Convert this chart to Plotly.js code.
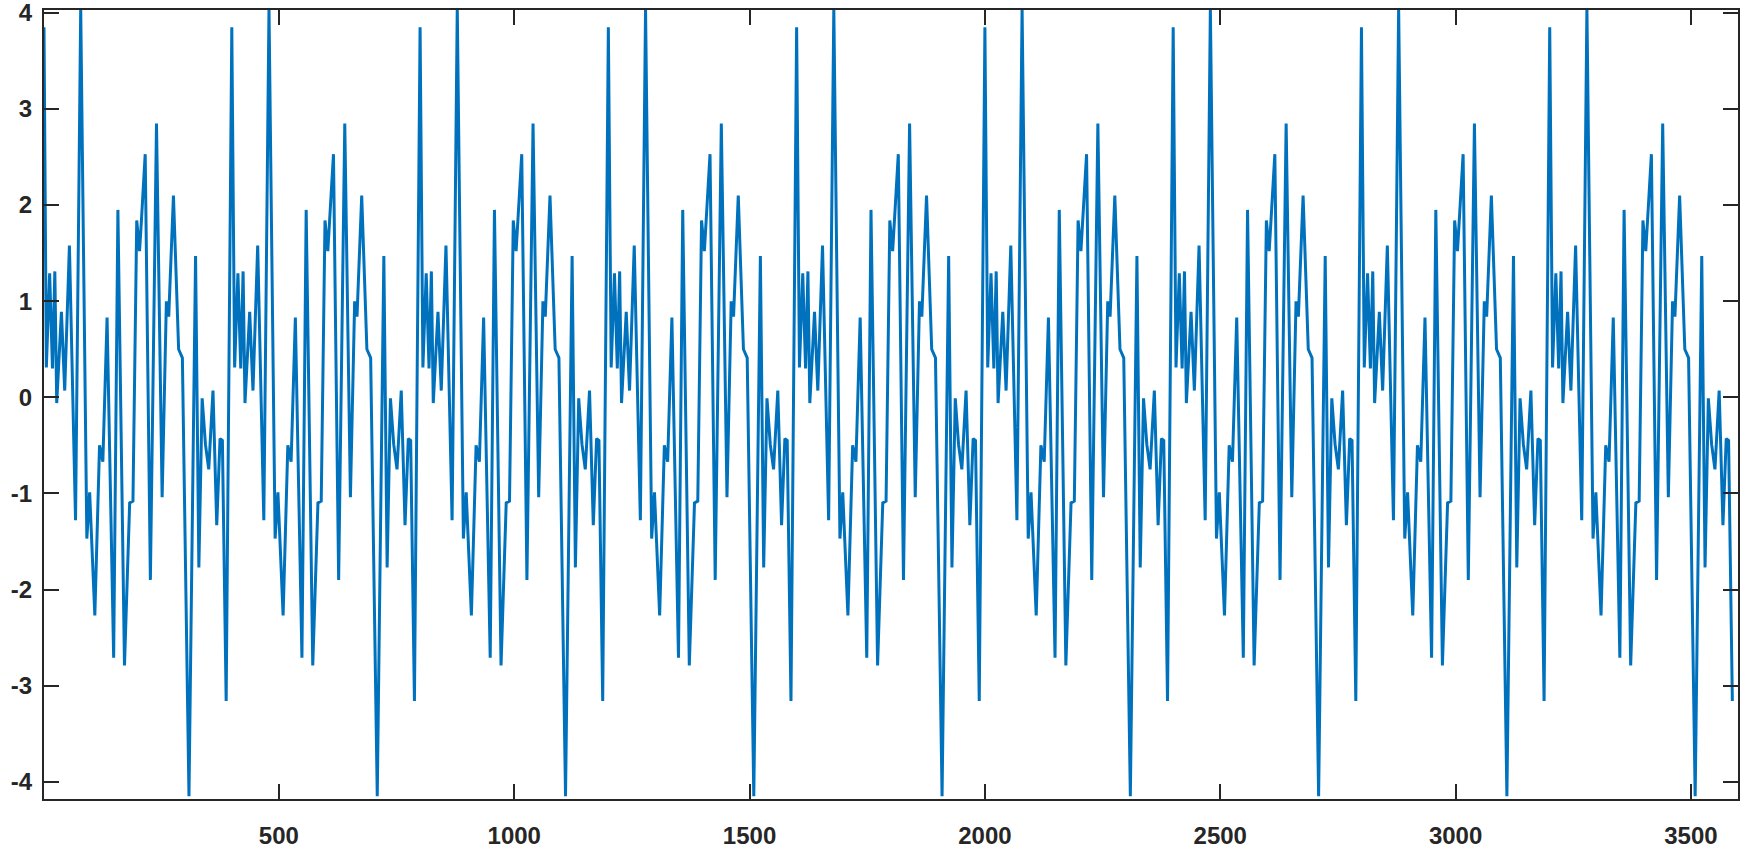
<!DOCTYPE html>
<html>
<head>
<meta charset="utf-8">
<script src="https://cdn.plot.ly/plotly-3.0.1.min.js"></script>
<style>html,body{margin:0;padding:0;background:#fff;}#chart{width:1750px;height:852px;}</style>
</head>
<body>
<div id="chart"></div>
<script>
// One period of the signal (sample index within the period, value)
const periodX = [0, 6, 13, 19, 24, 28, 38, 45, 55, 68, 79, 92, 98, 109, 119, 126, 135, 149, 158, 172,
  183, 190, 198, 204, 208, 216, 227, 240, 252, 261, 266, 276, 287, 295, 309, 323, 330, 337, 344, 351,
  360, 368, 375, 380, 388];
const periodY = [3.85, 0.31, 1.29, 0.30, 1.31, -0.06, 0.89, 0.07, 1.58, -1.28, 4.05, -1.47, -0.99, -2.27, -0.50, -0.67, 0.83, -2.71, 1.95, -2.79,
  -1.10, -1.08, 1.84, 1.52, 1.84, 2.53, -1.90, 2.85, -1.04, 1.00, 0.84, 2.10, 0.50, 0.41, -4.15, 1.47, -1.77, -0.01, -0.49, -0.75,
  0.07, -1.33, -0.43, -0.45, -3.16];
const periodLength = 400;
const periodCount = 9;
const xTickVals = [500, 1000, 1500, 2000, 2500, 3000, 3500];
const yTickVals = [-4, -3, -2, -1, 0, 1, 2, 3, 4];

// The signal repeats exactly; tile the read period across the record
const xs = [], ys = [];
for (let k = 0; k < periodCount; k++) {
  for (let i = 0; i < periodX.length; i++) {
    xs.push(k * periodLength + periodX[i] + (k === 0 && i === 0 ? 1 : 0));
    ys.push(periodY[i]);
  }
}

const axisCommon = {
  showgrid: false,
  zeroline: false,
  showline: true,
  linecolor: '#262626',
  linewidth: 2,
  mirror: 'ticks',
  ticks: 'inside',
  ticklen: 15,
  tickwidth: 2,
  tickcolor: '#262626',
  ticklabeloverflow: 'allow',
  tickfont: {family: 'Liberation Sans, Arial, sans-serif', size: 24, color: '#262626', weight: 'bold'}
};

const trace = {
  x: xs, y: ys, type: 'scatter', mode: 'lines',
  line: {color: '#0072BD', width: 3},
  hoverinfo: 'skip'
};

const layout = {
  width: 1750, height: 852,
  margin: {l: 44, r: 12, t: 10, b: 53},
  paper_bgcolor: '#ffffff', plot_bgcolor: '#ffffff',
  showlegend: false,
  xaxis: Object.assign({}, axisCommon, {
    range: [1, 3600], tickmode: 'array', tickvals: xTickVals,
    ticktext: xTickVals.map(String), ticklabelstandoff: 14
  }),
  yaxis: Object.assign({}, axisCommon, {
    range: [-4.18, 4.03], tickmode: 'array', tickvals: yTickVals,
    ticktext: yTickVals.map(String), ticklabelstandoff: 5
  })
};

Plotly.newPlot('chart', [trace], layout, {staticPlot: true, displayModeBar: false});
</script>
</body>
</html>
